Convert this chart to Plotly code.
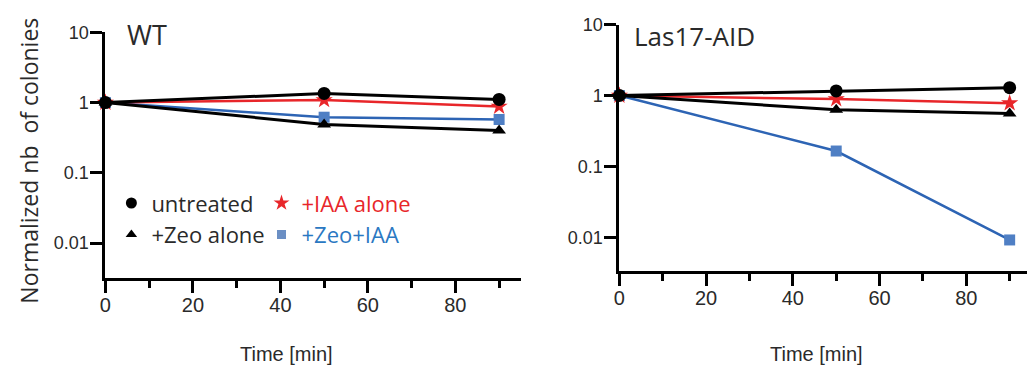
import plotly.graph_objects as go

# ---- data ----
time_min = [0, 50, 90]
series_names = ["untreated", "+IAA alone", "+Zeo alone", "+Zeo+IAA"]

wt_untreated = [1.0, 1.35, 1.11]
wt_iaa = [1.0, 1.09, 0.88]
wt_zeo = [1.0, 0.49, 0.40]
wt_zeo_iaa = [1.0, 0.62, 0.575]

las_untreated = [1.0, 1.16, 1.29]
las_iaa = [1.0, 0.89, 0.78]
las_zeo = [1.0, 0.63, 0.56]
las_zeo_iaa = [1.0, 0.165, 0.0092]

x_ticks = [0, 20, 40, 60, 80]
y_ticks = [0.01, 0.1, 1, 10]
y_tick_labels = ["0.01", "0.1", "1", "10"]

panel_titles = ["WT", "Las17-AID"]
x_title = "Time [min]"
y_title = "Normalized nb  of colonies"

# ---- styles ----
W, H = 1027, 368
BLACK = "#000000"
RED = "#e8262a"
BLUE = "#2d64b4"
BLUE_MK = "#4f7fc4"
TXT = "#2a2a2a"

styles = {
    "+Zeo+IAA": dict(color=BLUE, symbol="square", size=11, mcolor=BLUE_MK, width=2.5),
    "+IAA alone": dict(color=RED, symbol="star", size=13, mcolor=RED, width=2.5),
    "+Zeo alone": dict(color=BLACK, symbol="triangle-up", size=12, mcolor=BLACK, width=3),
    "untreated": dict(color=BLACK, symbol="circle", size=13, mcolor=BLACK, width=3),
}

fig = go.Figure()

panels = [
    ("x", "y", {"untreated": wt_untreated, "+IAA alone": wt_iaa,
                "+Zeo alone": wt_zeo, "+Zeo+IAA": wt_zeo_iaa}),
    ("x2", "y2", {"untreated": las_untreated, "+IAA alone": las_iaa,
                  "+Zeo alone": las_zeo, "+Zeo+IAA": las_zeo_iaa}),
]
draw_order = ["+Zeo+IAA", "+IAA alone", "+Zeo alone", "untreated"]
for xa, ya, data in panels:
    for name in draw_order:
        s = styles[name]
        fig.add_trace(go.Scatter(
            x=time_min, y=data[name], xaxis=xa, yaxis=ya, mode="lines+markers",
            line=dict(color=s["color"], width=s["width"]),
            marker=dict(symbol=s["symbol"], size=s["size"], color=s["mcolor"],
                        line=dict(width=0)),
            showlegend=False, cliponaxis=False))

# legend entries (marker only)
legend_map = {"untreated": "legend", "+Zeo alone": "legend",
              "+IAA alone": "legend2", "+Zeo+IAA": "legend2"}
legend_text_color = {"untreated": TXT, "+Zeo alone": TXT,
                     "+IAA alone": RED, "+Zeo+IAA": "#2a78c2"}
legend_marker_size = {"untreated": 11, "+Zeo alone": 10, "+IAA alone": 12, "+Zeo+IAA": 9}
for name in series_names:
    s = styles[name]
    fig.add_trace(go.Scatter(
        x=[None], y=[None], mode="markers",
        name=f'<span style="color:{legend_text_color[name]}">{name}</span>',
        marker=dict(symbol=s["symbol"], size=legend_marker_size[name],
                    color=(s["mcolor"] if name != "+Zeo+IAA" else "#6b8fc4")),
        legend=legend_map[name], showlegend=True))

def xaxis_cfg(domain, rng, anchor):
    return dict(domain=domain, range=rng, anchor=anchor,
                tickvals=x_ticks, ticks="outside", ticklen=12, tickwidth=3,
                tickcolor=BLACK, showline=True, linewidth=3, linecolor=BLACK,
                showgrid=False, zeroline=False, ticklabelstandoff=-5,
                tickfont=dict(family="Liberation Sans, Arial", size=20, color=TXT),
                minor=dict(dtick=10, tick0=0, ticks="outside", ticklen=7,
                           tickwidth=3, tickcolor=BLACK, showgrid=False))

def yaxis_cfg(domain, rng, anchor):
    return dict(domain=domain, range=rng, anchor=anchor, type="log",
                tickvals=y_ticks, ticktext=y_tick_labels, ticks="outside",
                ticklen=12, tickwidth=3, tickcolor=BLACK, showline=True,
                linewidth=3, linecolor=BLACK, showgrid=False, zeroline=False,
                ticklabelstandoff=-2,
                tickfont=dict(family="Liberation Sans, Arial", size=18, color=TXT))

fig.update_layout(
    width=W, height=H, margin=dict(l=0, r=0, t=0, b=0),
    paper_bgcolor="white", plot_bgcolor="white",
    xaxis=xaxis_cfg([100 / W, 518 / W], [0, 95], "y"),
    yaxis=yaxis_cfg([1 - 275 / H, 1 - 23 / H], [-2.49, 1], "x"),
    xaxis2=xaxis_cfg([617 / W, 1.0], [0, 94], "y2"),
    yaxis2=yaxis_cfg([1 - 268 / H, 1 - 15 / H], [-2.47, 1], "x2"),
    legend=dict(x=106 / W, y=1 - 177 / H, xanchor="left", yanchor="top",
                bgcolor="rgba(0,0,0,0)", tracegroupgap=0, itemwidth=30,
                font=dict(family="Open Sans", size=22, color=TXT)),
    legend2=dict(x=257 / W, y=1 - 177 / H, xanchor="left", yanchor="top",
                 bgcolor="rgba(0,0,0,0)", tracegroupgap=0, itemwidth=30,
                 font=dict(family="Open Sans", size=22, color=TXT)),
)

ann_font = dict(family="Open Sans", color=TXT)
fig.add_annotation(x=120 / W, y=1 - 25 / H, xref="paper", yref="paper",
                   text=panel_titles[0], showarrow=False, xanchor="left",
                   yanchor="middle", font=dict(size=27, **ann_font))
fig.add_annotation(x=630 / W, y=1 - 27 / H, xref="paper", yref="paper",
                   text=panel_titles[1], showarrow=False, xanchor="left",
                   yanchor="middle", font=dict(size=26, **ann_font))
fig.add_annotation(x=23 / W, y=1 - 155 / H, xref="paper", yref="paper",
                   text=y_title, showarrow=False, textangle=-90,
                   xanchor="center", yanchor="middle", font=dict(size=23, **ann_font))
for cx in (282, 815):
    fig.add_annotation(x=cx / W, y=1 - 354 / H, xref="paper", yref="paper",
                       text=x_title, showarrow=False, xanchor="center",
                       yanchor="middle",
                       font=dict(family="Liberation Sans Narrow, Liberation Sans, Arial",
                                 size=20, color=TXT))

fig.write_html("out.html", config={"displayModeBar": False},
               post_script="document.body.style.margin='0';document.body.style.overflow='hidden';")
